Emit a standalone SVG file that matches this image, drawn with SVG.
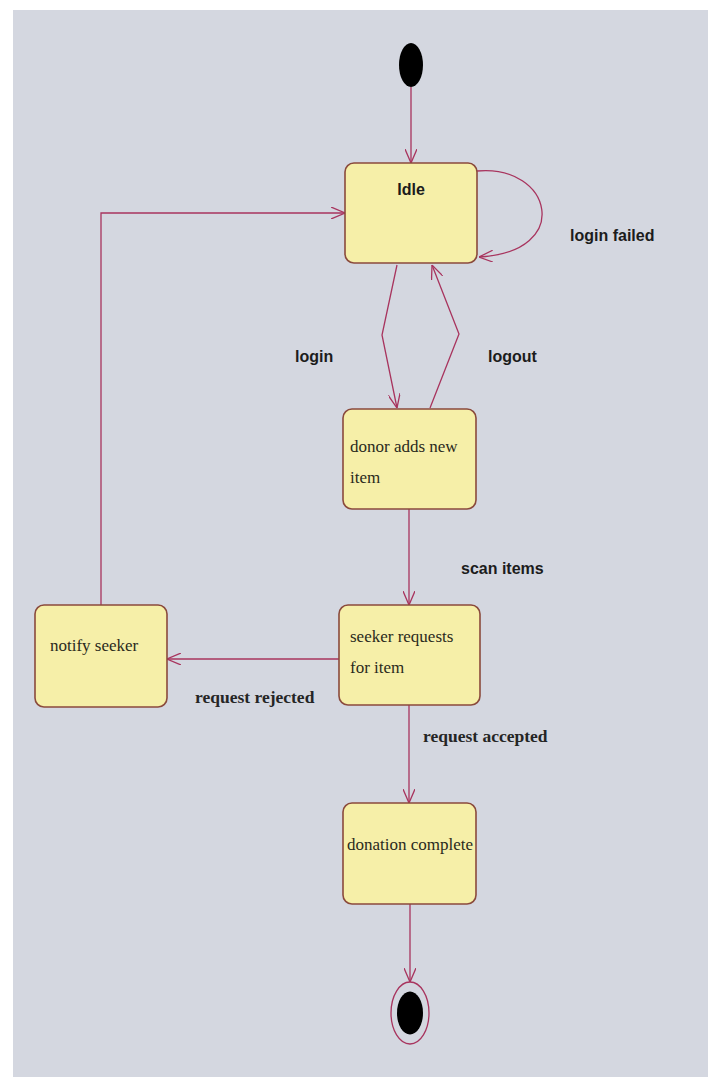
<svg xmlns="http://www.w3.org/2000/svg" width="708" height="1077" viewBox="0 0 708 1077">
<style>
.bg{fill:#d4d7e0}
.state{fill:#f6efa8;stroke:#8a4a3c;stroke-width:1.6}
.lbl{font-family:"Liberation Serif","Times New Roman",serif;font-size:17px;fill:#2a2a1c}
.tr{font-family:"Liberation Sans",Arial,sans-serif;font-weight:bold;font-size:16px;fill:#1c1c1c}
.trs{font-family:"Liberation Serif","Times New Roman",serif;font-weight:bold;font-size:17.5px;fill:#252525}
.conn{fill:none;stroke:#a8345e;stroke-width:1.3}
</style>
<defs>
<marker id="arr" viewBox="0 0 14 12" refX="14" refY="6" markerWidth="14" markerHeight="12" markerUnits="userSpaceOnUse" orient="auto">
<path d="M0,0 L14,6 L0,12" fill="none" stroke="#a8345e" stroke-width="1.3"/>
</marker>
</defs>
<rect x="0" y="0" width="708" height="1077" fill="#ffffff"/>
<rect class="bg" x="13" y="10" width="695" height="1067"/>

<g id="connectors">
<path class="conn" d="M411,87 L411,163" marker-end="url(#arr)"/>
<path class="conn" d="M477,171 C552,164 574,252 479,257" marker-end="url(#arr)"/>
<path class="conn" d="M397,265 L382,335 L397,408" marker-end="url(#arr)"/>
<path class="conn" d="M430,408 L459,334 L432,265" marker-end="url(#arr)"/>
<path class="conn" d="M409,509 L409,605" marker-end="url(#arr)"/>
<path class="conn" d="M339,659 L167,659" marker-end="url(#arr)"/>
<path class="conn" d="M101,605 L101,213 L345,213" marker-end="url(#arr)"/>
<path class="conn" d="M409,705 L409,803" marker-end="url(#arr)"/>
<path class="conn" d="M410,904 L410,982" marker-end="url(#arr)"/>
<text class="tr" x="570" y="241">login failed</text>
<text class="tr" x="295" y="362">login</text>
<text class="tr" x="488" y="362">logout</text>
<text class="tr" x="461" y="574">scan items</text>
<text class="trs" x="195" y="703">request rejected</text>
<text class="trs" x="423" y="742">request accepted</text>
</g>

<g id="initial">
<ellipse cx="411" cy="65" rx="12" ry="22" fill="#000000"/>
</g>

<g id="idle">
<rect class="state" x="345" y="163" width="132" height="100" rx="9"/>
<text class="tr" x="411" y="195" text-anchor="middle">Idle</text>
</g>

<g id="donor">
<rect class="state" x="343" y="409" width="133" height="100" rx="9"/>
<text class="lbl" x="350" y="452">donor adds new</text>
<text class="lbl" x="350" y="483">item</text>
</g>

<g id="seeker">
<rect class="state" x="339" y="605" width="141" height="100" rx="9"/>
<text class="lbl" x="350" y="642">seeker requests</text>
<text class="lbl" x="350" y="673">for item</text>
</g>

<g id="notify">
<rect class="state" x="35" y="605" width="132" height="102" rx="9"/>
<text class="lbl" x="50" y="651">notify seeker</text>
</g>

<g id="donation">
<rect class="state" x="343" y="803" width="133" height="101" rx="9"/>
<text class="lbl" x="347" y="850">donation complete</text>
</g>

<g id="final">
<ellipse cx="410" cy="1013" rx="19" ry="31" fill="none" stroke="#a8345e" stroke-width="1.3"/>
<ellipse cx="410" cy="1013" rx="13" ry="21.5" fill="#000000"/>
</g>
</svg>
